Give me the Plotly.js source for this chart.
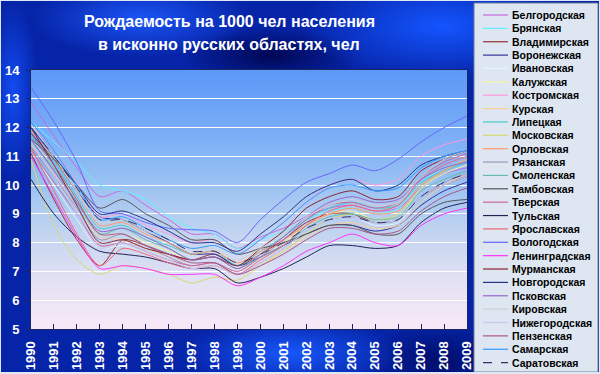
<!DOCTYPE html>
<html><head><meta charset="utf-8">
<script src="https://cdn.plot.ly/plotly-3.0.1.min.js"></script>
<style>
html,body{margin:0;padding:0;background:#fff;}
#wrap{position:relative;width:600px;height:374px;overflow:hidden;box-sizing:border-box;
 background:
  radial-gradient(ellipse 110px 38px at 140px 18px, rgba(30,90,255,0.9), rgba(30,90,255,0)),
  radial-gradient(ellipse 140px 55px at 440px 25px, rgba(20,85,255,1), rgba(20,85,255,0)),
  radial-gradient(ellipse 90px 30px at 270px 55px, rgba(0,5,80,0.95), rgba(0,5,80,0)),
  radial-gradient(ellipse 110px 35px at 290px 352px, rgba(25,90,255,0.95), rgba(25,90,255,0)),
  radial-gradient(ellipse 25px 90px at 12px 90px, rgba(20,80,250,0.9), rgba(20,80,250,0)),
  radial-gradient(ellipse 80px 40px at 440px 360px, rgba(0,10,100,0.9), rgba(0,10,100,0)),
  #0624a8;
 border:1px solid #dfe7f5;border-bottom-width:2px;}
#plotbg{position:absolute;left:30px;top:69px;width:436px;height:259px;
 background:linear-gradient(to bottom,#5c98f7 0%,#7aaef6 25%,#9cc3f2 45%,#c6d6f0 65%,#e4e2f4 82%,#f8e8f6 100%);}
#chart{position:absolute;left:-1px;top:-1px;width:600px;height:374px;}
</style></head>
<body><div id="wrap"><div id="plotbg"></div><div id="chart"></div></div>
<script>
const years = [1990,1991,1992,1993,1994,1995,1996,1997,1998,1999,2000,2001,2002,2003,2004,2005,2006,2007,2008,2009];
const yearLabels = years.map(String);
const titleLines = ["Рождаемость на 1000 чел населения","в исконно русских областях, чел"];
const regions = ["Белгородская","Брянская","Владимирская","Воронежская","Ивановская","Калужская","Костромская","Курская","Липецкая","Московская","Орловская","Рязанская","Смоленская","Тамбовская","Тверская","Тульская","Ярославская","Вологодская","Ленинградская","Мурманская","Новгородская","Псковская","Кировская","Нижегородская","Пензенская","Самарская","Саратовская"];
const colors = ["#cc66dd","#66eeff","#993333","#333399","#e6f2ff","#f5f5a0","#ff99dd","#ffcc99","#44cccc","#d8d870","#ff9966","#9999bb","#66bbaa","#555555","#cc6699","#222255","#ee6677","#6666ff","#ff33ff","#882233","#223388","#9966cc","#d0d0d0","#c8c8f0","#aa5588","#3399ff","#333366"];
const dashes = ["solid","solid","solid","solid","solid","solid","solid","solid","solid","solid","solid","solid","solid","solid","solid","solid","solid","solid","solid","solid","solid","solid","solid","solid","solid","solid","dash"];

const belgorod   = [12.9,11.7,10.6,9.6,9.8,9.3,8.8,8.3,8.3,7.8,8.2,8.5,8.9,9.2,9.3,9.1,9.2,9.9,10.4,10.6];
const bryansk    = [12.2,11.5,10.8,10.0,9.8,9.5,8.9,8.5,8.3,7.8,8.1,8.4,8.8,9.1,9.2,9.0,9.2,10.1,10.6,10.8];
const vladimir   = [11.1,9.5,8.1,7.2,8.1,7.9,7.6,7.4,7.6,7.2,7.6,8.1,8.7,9.0,9.0,8.7,8.8,9.6,10.0,10.3];
const voronezh   = [11.8,10.9,9.8,8.9,8.8,8.4,8.0,7.6,7.6,7.2,7.5,7.9,8.3,8.6,8.6,8.4,8.6,9.3,9.8,10.1];
const ivanovo    = [11.2,10.0,8.8,7.8,7.9,7.6,7.3,7.1,7.2,6.9,7.3,7.8,8.4,8.8,8.9,8.6,8.7,9.6,10.1,10.4];
const kaluga     = [11.6,10.6,9.5,8.3,8.3,8.0,7.7,7.4,7.5,7.1,7.6,8.0,8.6,9.0,9.1,8.8,8.9,9.9,10.4,10.7];
const kostroma   = [12.1,11.2,10.1,8.9,9.0,8.6,8.3,8.0,8.1,7.6,8.1,8.7,9.4,10.0,10.2,10.0,10.2,11.0,11.4,11.6];
const kursk      = [11.4,10.4,9.2,8.2,8.1,7.8,7.5,7.2,7.3,6.9,7.3,7.7,8.2,8.6,8.7,8.5,8.6,9.4,10.0,10.4];
const lipetsk    = [11.7,10.8,9.6,8.5,8.6,8.2,7.9,7.6,7.7,7.2,7.7,8.2,8.8,9.2,9.4,9.2,9.3,10.1,10.5,10.8];
const moscowObl  = [10.9,8.6,7.4,6.9,7.2,7.1,6.9,6.6,6.8,6.7,7.2,7.7,8.3,8.8,9.0,8.8,9.0,9.9,10.5,10.9];
const oryol      = [11.9,10.9,9.8,8.6,8.7,8.3,8.0,7.6,7.7,7.3,7.7,8.1,8.6,9.0,9.2,9.0,9.1,10.0,10.5,10.9];
const ryazan     = [11.3,10.3,9.2,8.1,8.3,7.9,7.5,7.2,7.3,6.9,7.3,7.8,8.4,8.8,8.9,8.7,8.8,9.6,10.1,10.4];
const smolensk   = [11.5,10.6,9.4,8.3,8.5,8.1,7.8,7.4,7.5,7.1,7.5,7.9,8.5,8.9,9.0,8.8,8.9,9.8,10.2,10.5];
const tambov     = [11.6,10.9,10.0,9.2,9.5,9.0,8.6,8.1,8.1,7.6,7.8,8.0,8.3,8.6,8.6,8.3,8.3,9.0,9.4,9.5];
const tver       = [11.2,10.1,9.0,7.9,8.0,7.7,7.4,7.2,7.3,7.0,7.5,8.1,8.8,9.3,9.4,9.2,9.4,10.3,10.8,11.1];
const tula       = [10.2,9.0,8.2,7.7,7.6,7.5,7.3,7.1,7.1,6.6,6.8,7.1,7.5,7.9,7.9,7.8,7.9,8.7,9.2,9.4];
const yaroslavl  = [11.3,9.8,8.3,7.2,7.8,7.6,7.3,7.1,7.2,6.9,7.4,7.9,8.6,9.1,9.3,9.1,9.3,10.2,10.7,11.0];
const vologda    = [13.4,12.2,10.8,9.1,9.0,8.7,8.5,8.45,8.4,8.0,8.8,9.5,10.1,10.4,10.7,10.5,10.9,11.5,12.0,12.4];
const leningrad  = [11.0,9.6,8.2,7.1,7.2,7.1,6.9,6.9,6.9,6.5,6.8,7.2,7.7,8.0,8.3,8.0,7.9,8.6,9.0,9.2];
const murmansk   = [12.0,10.7,9.3,8.0,8.1,7.8,7.6,7.4,7.5,7.2,7.8,8.4,9.2,9.6,9.8,9.5,9.6,10.5,10.9,11.2];
const novgorod   = [12.0,11.0,10.0,9.0,9.1,8.8,8.4,8.0,8.0,7.7,8.3,8.9,9.6,10.0,10.2,9.8,10.0,10.7,11.0,11.2];
const pskov      = [11.6,10.5,9.4,8.4,8.5,8.2,7.8,7.4,7.5,7.1,7.6,8.2,8.9,9.4,9.6,9.4,9.5,10.2,10.6,10.8];
const kirov      = [12.1,11.0,9.8,8.7,8.8,8.4,8.1,7.8,7.8,7.4,7.8,8.3,8.9,9.3,9.5,9.3,9.4,10.3,10.9,11.2];
const nizhny     = [11.5,10.3,9.0,7.8,8.0,7.7,7.4,7.1,7.2,6.9,7.3,7.8,8.4,8.8,8.9,8.7,8.8,9.6,10.0,10.3];
const penza      = [11.8,10.7,9.5,8.3,8.3,7.9,7.6,7.3,7.3,6.9,7.2,7.6,8.1,8.5,8.5,8.3,8.4,9.1,9.6,9.9];
const samara     = [12.2,11.2,10.0,8.8,8.9,8.5,8.1,7.8,7.9,7.6,8.1,8.7,9.4,9.9,10.0,9.8,9.9,10.6,11.0,11.2];
const saratov    = [12.0,11.0,9.9,8.8,8.8,8.5,8.1,7.7,7.7,7.3,7.6,8.0,8.5,8.8,8.9,8.7,8.8,9.6,10.1,10.4];

const series = [belgorod,bryansk,vladimir,voronezh,ivanovo,kaluga,kostroma,kursk,lipetsk,moscowObl,oryol,ryazan,smolensk,tambov,tver,tula,yaroslavl,vologda,leningrad,murmansk,novgorod,pskov,kirov,nizhny,penza,samara,saratov];
const yTicks = [5,6,7,8,9,10,11,12,13,14];

const traces = series.map((v,i)=>({
  type:'scatter', mode:'lines', x:years, y:v, name:regions[i],
  line:{color:colors[i], width:1, shape:'spline', smoothing:0.8, dash:dashes[i]},
  showlegend:false, hoverinfo:'skip'
}));

// layout geometry (pixels)
const L=31, R=467, T=70, B=329;
const px2x = p => (p-L)/(R-L);
const px2y = p => (B-p)/(B-T);
const FONT = 'Liberation Sans, Arial, sans-serif';

const shapes = [{type:'rect', xref:'paper', yref:'paper', x0:px2x(474), x1:px2x(598), y0:px2y(372), y1:px2y(3),
  fillcolor:'#dde6f1', line:{color:'#6f7f99', width:1}, layer:'below'}];
const annotations = [];
titleLines.forEach((t,i)=>{
  annotations.push({xref:'paper', yref:'paper', x:px2x(229), y:px2y(i===0?22:45), xanchor:'center', yanchor:'middle',
    text:t, showarrow:false, font:{family:FONT, size:16, weight:700, color:'#ffffff'}});
});
regions.forEach((name,i)=>{
  const yc = 15 + i*13.37;
  shapes.push({type:'line', xref:'paper', yref:'paper', x0:px2x(483), x1:px2x(508), y0:px2y(yc), y1:px2y(yc),
    line:{color:colors[i], width:1.2, dash:dashes[i]}});
  annotations.push({xref:'paper', yref:'paper', x:px2x(510), y:px2y(yc), xanchor:'left', yanchor:'middle',
    text:name, showarrow:false, font:{family:FONT, size:10.5, weight:700, color:'#000'}});
});

const layout = {
  width:600, height:374,
  margin:{l:L, r:600-R, t:T, b:374-B, pad:0},
  paper_bgcolor:'rgba(0,0,0,0)', plot_bgcolor:'rgba(0,0,0,0)',
  xaxis:{range:[1990,2009], tickmode:'array', tickvals:years, ticktext:yearLabels, tickangle:-90,
    ticks:'inside', ticklen:5, tickcolor:'#1a2660', tickwidth:1, ticklabelstandoff:6,
    showline:true, linecolor:'#1a2660', linewidth:1, mirror:true, showgrid:false, zeroline:false,
    tickfont:{family:FONT, size:13, weight:700, color:'#ffffff'}},
  yaxis:{range:[5,14], tickmode:'array', tickvals:yTicks, ticks:'outside', ticklen:4, tickcolor:'#1a2660',
    ticklabelstandoff:4,
    showline:true, linecolor:'#1a2660', linewidth:1, mirror:true, zeroline:false,
    showgrid:true, gridcolor:'#ffffff', gridwidth:1.2,
    tickfont:{family:FONT, size:13, weight:700, color:'#ffffff'}},
  shapes:shapes, annotations:annotations, showlegend:false
};
Plotly.newPlot('chart', traces, layout, {displayModeBar:false, staticPlot:true});
</script>
</body></html>
